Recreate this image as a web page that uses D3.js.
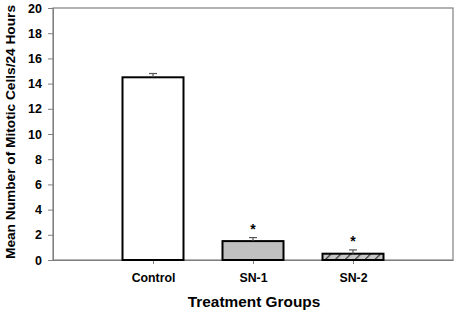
<!DOCTYPE html>
<html>
<head>
<meta charset="utf-8">
<script src="https://cdn.jsdelivr.net/npm/d3@7"></script>
<style>
  body { margin: 0; background: #fff; }
  text { font-family: Arial, "Liberation Sans", sans-serif; font-weight: bold; }
</style>
</head>
<body>
<div id="chart"></div>
<script>
var groups = ["Control", "SN-1", "SN-2"];
var means = [14.5, 1.5, 0.5];
var errors = [0.3, 0.28, 0.3];
var significant = [false, true, true];
var yTicks = [0, 2, 4, 6, 8, 10, 12, 14, 16, 18, 20];

function drawChart() {
    var width = 459, height = 313;
    var margin = {top: 8, right: 6, bottom: 53, left: 53};

    var svg = d3.select("#chart").append("svg")
        .attr("width", width)
        .attr("height", height);

    var defs = svg.append("defs");
    var pat = defs.append("pattern")
        .attr("id", "hatch")
        .attr("patternUnits", "userSpaceOnUse")
        .attr("width", 7)
        .attr("height", 7)
        .attr("patternTransform", "rotate(45)");
    pat.append("rect").attr("width", 7).attr("height", 7).attr("fill", "#c8c8c8");
    pat.append("line")
        .attr("x1", 0).attr("y1", 0).attr("x2", 0).attr("y2", 7)
        .attr("stroke", "#333").attr("stroke-width", 2.5);

    // categories sit at 1,2,3 of a 0..4 range
    var x = d3.scaleLinear()
        .domain([0, groups.length + 1])
        .range([margin.left, width - margin.right]);

    var y = d3.scaleLinear()
        .domain([0, 20])
        .range([height - margin.bottom, margin.top]);

    var barW = 61;
    var fills = ["#ffffff", "#c0c0c0", "url(#hatch)"];

    // frame
    svg.append("rect")
        .attr("x", x(0))
        .attr("y", y(20))
        .attr("width", x(4) - x(0))
        .attr("height", y(0) - y(20))
        .attr("fill", "none")
        .attr("stroke", "#808080")
        .attr("stroke-width", 1.2);

    var yAxis = svg.append("g")
        .attr("transform", "translate(" + x(0) + ",0)")
        .call(d3.axisLeft(y).tickValues(yTicks).tickSize(5).tickPadding(6));
    yAxis.select(".domain").attr("stroke", "#808080");
    yAxis.selectAll(".tick line").attr("stroke", "#808080");
    yAxis.selectAll(".tick text").attr("font-size", 12.5).attr("fill", "#000");

    var xAxis = svg.append("g")
        .attr("transform", "translate(0," + y(0) + ")")
        .call(d3.axisBottom(x)
            .tickValues([1, 2, 3])
            .tickFormat(function(d) { return groups[d - 1]; })
            .tickSize(4).tickPadding(9).tickSizeOuter(0));
    xAxis.select(".domain").attr("stroke", "#808080");
    xAxis.selectAll(".tick line").attr("stroke", "#808080");
    xAxis.selectAll(".tick text").attr("font-size", 12.3).attr("fill", "#000");

    var bars = svg.append("g");
    bars.selectAll("rect")
        .data(means)
        .enter()
        .append("rect")
        .attr("x", function(d, i) { return x(i + 1) - barW / 2; })
        .attr("y", function(d) { return y(d); })
        .attr("width", barW)
        .attr("height", function(d) { return y(0) - y(d); })
        .attr("fill", function(d, i) { return fills[i]; })
        .attr("stroke", "#000")
        .attr("stroke-width", 2);

    // error bars (upper only)
    var eb = svg.append("g").attr("stroke", "#555").attr("stroke-width", 1.2);
    means.forEach(function(m, i) {
        var cx = x(i + 1);
        eb.append("line")
            .attr("x1", cx).attr("x2", cx)
            .attr("y1", y(m)).attr("y2", y(m + errors[i]));
        eb.append("line")
            .attr("x1", cx - 4).attr("x2", cx + 4)
            .attr("y1", y(m + errors[i])).attr("y2", y(m + errors[i]));
    });

    var stars = svg.append("g");
    means.forEach(function(m, i) {
        if (!significant[i]) return;
        stars.append("text")
            .attr("x", x(i + 1))
            .attr("y", y(m + errors[i]) - 4)
            .attr("text-anchor", "middle")
            .attr("font-size", 14)
            .text("*");
    });

    svg.append("text")
        .attr("x", (x(0) + x(4)) / 2 + 1)
        .attr("y", 307)
        .attr("text-anchor", "middle")
        .attr("font-size", 15.4)
        .text("Treatment Groups");

    svg.append("text")
        .attr("transform", "translate(15," + (y(10) - 2) + ") rotate(-90)")
        .attr("text-anchor", "middle")
        .attr("font-size", 13.7)
        .text("Mean Number of Mitotic Cells/24 Hours");
}

window.onload = drawChart;
</script>
</body>
</html>
